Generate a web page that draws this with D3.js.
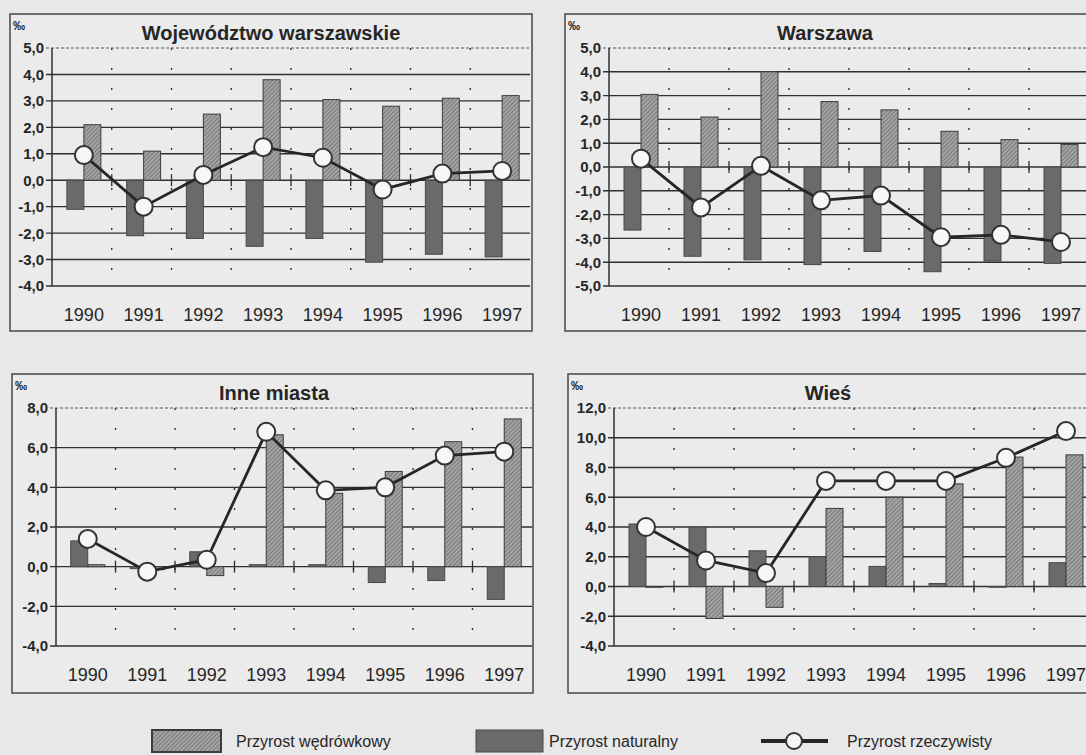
<!DOCTYPE html>
<meta charset="utf-8">
<script src="https://d3js.org/d3.v7.min.js"></script>
<style>
  body { margin: 0; background: #e8e8e8; overflow: hidden; }
  text { font-family: "Liberation Sans", Arial, sans-serif; fill: #262626; }
</style>
<svg id="chart" width="1086" height="755"></svg>
<script>
  // categories
  const years = ["1990", "1991", "1992", "1993", "1994", "1995", "1996", "1997"];
  const titles = ["Województwo warszawskie", "Warszawa", "Inne miasta", "Wieś"];
  const legendLabels = ["Przyrost wędrówkowy", "Przyrost naturalny", "Przyrost rzeczywisty"];

  // Województwo warszawskie
  const wojNatural   = [-1.1, -2.1, -2.2, -2.5, -2.2, -3.1, -2.8, -2.9];
  const wojMigration = [2.1, 1.1, 2.5, 3.8, 3.05, 2.8, 3.1, 3.2];
  const wojReal      = [0.95, -1.0, 0.2, 1.25, 0.85, -0.35, 0.25, 0.35];

  // Warszawa
  const wawNatural   = [-2.65, -3.75, -3.9, -4.1, -3.55, -4.4, -3.95, -4.05];
  const wawMigration = [3.05, 2.1, 4.0, 2.75, 2.4, 1.5, 1.15, 0.95];
  const wawReal      = [0.35, -1.7, 0.05, -1.4, -1.2, -2.95, -2.85, -3.15];

  // Inne miasta
  const cityNatural   = [1.3, -0.1, 0.75, 0.1, 0.1, -0.8, -0.7, -1.65];
  const cityMigration = [0.1, -0.15, -0.45, 6.65, 3.7, 4.8, 6.3, 7.45];
  const cityReal      = [1.4, -0.25, 0.35, 6.8, 3.85, 4.0, 5.6, 5.8];

  // Wieś
  const ruralNatural   = [4.2, 4.0, 2.4, 2.0, 1.35, 0.2, -0.05, 1.6];
  const ruralMigration = [-0.05, -2.15, -1.4, 5.25, 6.0, 6.9, 8.7, 8.85];
  const ruralReal      = [4.0, 1.75, 0.9, 7.1, 7.1, 7.1, 8.65, 10.45];

  // y axis ranges: min, max, step
  const yRanges = [[-4, 5, 1], [-5, 5, 1], [-4, 8, 2], [-4, 12, 2]];

  const panels = [
    { title: titles[0], nat: wojNatural, mig: wojMigration, real: wojReal, y: yRanges[0],
      box: [10, 14, 532, 331], plot: [52, 48, 530, 286], titleX: 271, yearY: 321 },
    { title: titles[1], nat: wawNatural, mig: wawMigration, real: wawReal, y: yRanges[1],
      box: [565, 14, 1110, 331], plot: [609, 48, 1089, 286], titleX: 825, yearY: 321 },
    { title: titles[2], nat: cityNatural, mig: cityMigration, real: cityReal, y: yRanges[2],
      box: [12, 374, 533, 693], plot: [56, 408, 532, 646], titleX: 274, yearY: 681 },
    { title: titles[3], nat: ruralNatural, mig: ruralMigration, real: ruralReal, y: yRanges[3],
      box: [568, 374, 1110, 693], plot: [614, 408, 1094, 646], titleX: 828, yearY: 681 }
  ];

  const svg = d3.select("#chart");
  const fmt = v => d3.format(".1f")(v).replace(".", ",").replace("−", "-");

  // hatch pattern for the migration bars
  const pat = svg.append("defs").append("pattern")
    .attr("id", "hatch")
    .attr("patternUnits", "userSpaceOnUse")
    .attr("width", 3).attr("height", 3)
    .attr("patternTransform", "rotate(45)");
  pat.append("rect").attr("width", 3).attr("height", 3).attr("fill", "#a4a4a4");
  pat.append("line").attr("x1", 0).attr("y1", 0).attr("x2", 0).attr("y2", 3)
    .attr("stroke", "#626262").attr("stroke-width", 1.3);

  panels.forEach(p => {
    const g = svg.append("g");
    const [bx0, by0, bx1, by1] = p.box;
    const [px0, py0, px1, py1] = p.plot;

    g.append("rect")
      .attr("x", bx0).attr("y", by0)
      .attr("width", bx1 - bx0).attr("height", by1 - by0)
      .attr("fill", "#ebebeb")
      .attr("stroke", "#474747").attr("stroke-width", 1.5);

    const x = d3.scaleBand().domain(years).range([px0, px1]);
    const y = d3.scaleLinear().domain([p.y[0], p.y[1]]).range([py1, py0]);
    const ticks = d3.range(p.y[0], p.y[1] + 0.001, p.y[2]);
    const cx = d => x(d) + x.bandwidth() / 2 + 2;
    const barW = 17;

    // vertical dotted lines between categories
    g.append("g").selectAll("line")
      .data(years.slice(1))
      .join("line")
      .attr("x1", d => x(d)).attr("x2", d => x(d))
      .attr("y1", py0).attr("y2", py1)
      .attr("stroke", "#333").attr("stroke-width", 1.4)
      .attr("stroke-dasharray", "2,18");

    // horizontal gridlines
    g.append("g").selectAll("line")
      .data(ticks)
      .join("line")
      .attr("x1", px0 - 6).attr("x2", px1)
      .attr("y1", d => y(d)).attr("y2", d => y(d))
      .attr("stroke", d => d === p.y[1] ? "#555" : "#303030")
      .attr("stroke-width", d => d === p.y[1] ? 1 : 1.4)
      .attr("stroke-dasharray", d => d === p.y[1] ? "3,2" : null);

    // y axis line
    g.append("line")
      .attr("x1", px0).attr("x2", px0).attr("y1", py0).attr("y2", py1)
      .attr("stroke", "#303030").attr("stroke-width", 1.5);

    // category ticks on zero line
    g.append("g").selectAll("line")
      .data(years.slice(1))
      .join("line")
      .attr("x1", d => x(d)).attr("x2", d => x(d))
      .attr("y1", y(0) - 6).attr("y2", y(0) + 6)
      .attr("stroke", "#303030").attr("stroke-width", 1.3);

    // natural increase bars (left, dark)
    g.append("g").selectAll("rect")
      .data(years)
      .join("rect")
      .attr("x", d => cx(d) - barW)
      .attr("y", (d, i) => y(Math.max(0, p.nat[i])))
      .attr("width", barW)
      .attr("height", (d, i) => Math.abs(y(p.nat[i]) - y(0)))
      .attr("fill", "#6a6a6a")
      .attr("stroke", "#484848").attr("stroke-width", 1);

    // migration bars (right, hatched)
    g.append("g").selectAll("rect")
      .data(years)
      .join("rect")
      .attr("x", d => cx(d))
      .attr("y", (d, i) => y(Math.max(0, p.mig[i])))
      .attr("width", barW)
      .attr("height", (d, i) => Math.abs(y(p.mig[i]) - y(0)))
      .attr("fill", "url(#hatch)")
      .attr("stroke", "#3c3c3c").attr("stroke-width", 1);

    // real increase line
    const line = d3.line().x((d, i) => cx(years[i])).y(d => y(d));
    g.append("path")
      .datum(p.real)
      .attr("d", line)
      .attr("fill", "none")
      .attr("stroke", "#262626").attr("stroke-width", 2.8);

    g.append("g").selectAll("circle")
      .data(p.real)
      .join("circle")
      .attr("cx", (d, i) => cx(years[i]))
      .attr("cy", d => y(d))
      .attr("r", 9)
      .attr("fill", "#f7f7f7")
      .attr("stroke", "#333").attr("stroke-width", 2);

    // y tick labels
    g.append("g").selectAll("text")
      .data(ticks)
      .join("text")
      .attr("x", px0 - 8)
      .attr("y", d => y(d))
      .attr("dy", "0.36em")
      .attr("text-anchor", "end")
      .attr("font-size", 15).attr("font-weight", "bold")
      .attr("fill", "#3a3a3a")
      .text(fmt);

    // year labels
    g.append("g").selectAll("text")
      .data(years)
      .join("text")
      .attr("x", d => cx(d))
      .attr("y", p.yearY)
      .attr("text-anchor", "middle")
      .attr("font-size", 18)
      .text(d => d);

    // title and unit
    g.append("text")
      .attr("x", p.titleX).attr("y", by0 + 26)
      .attr("text-anchor", "middle")
      .attr("font-size", 20).attr("font-weight", "bold")
      .text(p.title);

    g.append("text")
      .attr("x", bx0 + 3).attr("y", by0 + 16)
      .attr("font-size", 12).attr("font-weight", "bold")
      .text("‰");
  });

  // legend
  const lg = svg.append("g");
  lg.append("rect").attr("x", 152).attr("y", 730).attr("width", 69).attr("height", 22)
    .attr("fill", "url(#hatch)").attr("stroke", "#3c3c3c").attr("stroke-width", 2);
  lg.append("text").attr("x", 236).attr("y", 747).attr("font-size", 16).text(legendLabels[0]);

  lg.append("rect").attr("x", 476).attr("y", 730).attr("width", 67).attr("height", 22)
    .attr("fill", "#6a6a6a").attr("stroke", "#484848").attr("stroke-width", 1);
  lg.append("text").attr("x", 549).attr("y", 747).attr("font-size", 16).text(legendLabels[1]);

  lg.append("line").attr("x1", 761).attr("x2", 828).attr("y1", 741).attr("y2", 741)
    .attr("stroke", "#262626").attr("stroke-width", 4);
  lg.append("circle").attr("cx", 794).attr("cy", 741).attr("r", 8)
    .attr("fill", "#f7f7f7").attr("stroke", "#333").attr("stroke-width", 2);
  lg.append("text").attr("x", 847).attr("y", 747).attr("font-size", 16).text(legendLabels[2]);
</script>
